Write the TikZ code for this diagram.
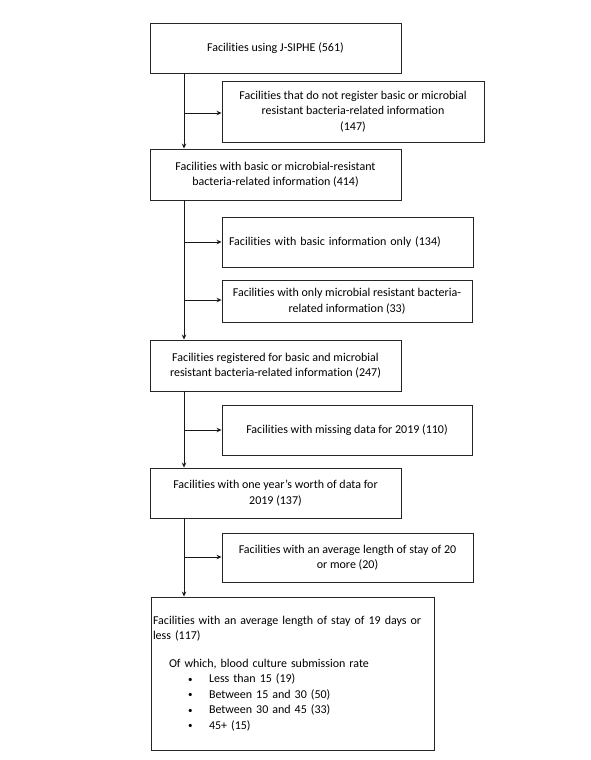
\documentclass[tikz,border=0pt]{standalone}
\usepackage{fontspec}
\setmainfont{Carlito}[Ligatures={NoCommon}]
\usetikzlibrary{arrows.meta}
\newcommand{\smbul}{\makebox[56pt][l]{\hspace*{35pt}\raisebox{0.5pt}{\scalebox{0.75}{\textbullet}}}}
\begin{document}
\begin{tikzpicture}[x=1pt,y=-1pt,
  box/.style={draw=black!85,line width=0.9pt,inner sep=2pt,align=center,
    font=\fontsize{12}{15.5}\selectfont,anchor=center},
  arr/.style={draw=black!90,line width=0.9pt,-{Stealth[length=5pt,width=4.5pt]}}]
\useasboundingbox (0,0) rectangle (590,760);
\node[box,minimum width=251pt,minimum height=50pt] (b1) at (275.5,48) {Facilities using J-SIPHE (561)};
\node[box,minimum width=262pt,minimum height=61pt] (b2) at (353,111.5) {Facilities that do not register basic or microbial\\resistant bacteria-related information\\(147)};
\node[box,minimum width=251pt,minimum height=51pt] (b3) at (275.5,174.5) {Facilities with basic or microbial-resistant\\bacteria-related information (414)};
\node[box,minimum width=251pt,minimum height=50pt,text width=237pt,align=left] (b4) at (347.5,242) {Facilities with basic information only (134)};
\node[box,minimum width=250pt,minimum height=42pt] (b5) at (347,301) {Facilities with only microbial resistant bacteria-\\related information (33)};
\node[box,minimum width=251pt,minimum height=51pt] (b6) at (275.5,365.5) {Facilities registered for basic and microbial\\resistant bacteria-related information (247)};
\node[box,minimum width=250pt,minimum height=50pt] (b7) at (347,430) {Facilities with missing data for 2019 (110)};
\node[box,minimum width=251pt,minimum height=50pt] (b8) at (275.5,493) {Facilities with one year's worth of data for\\2019 (137)};
\node[box,minimum width=251pt,minimum height=49pt] (b9) at (347.5,557.5) {Facilities with an average length of stay of 20\\or more (20)};
\node[box,minimum width=283pt,minimum height=153pt,text width=279pt,align=left] (b10) at (292.5,673.5) {Facilities with an average length of stay of 19 days or\\less (117)\\[12pt]\hspace*{16pt}Of which, blood culture submission rate\\
\smbul Less than 15 (19)\\
\smbul Between 15 and 30 (50)\\
\smbul Between 30 and 45 (33)\\
\smbul 45+ (15)};
\coordinate (m) at (184,0);
\coordinate (j1) at (184,113);
\coordinate (j2) at (184,242);
\coordinate (j3) at (184,300);
\coordinate (j4) at (184,430);
\coordinate (j5) at (184,557);
\draw[arr] (b1.south -| m) -- (b3.north -| m);
\draw[arr] (b3.south -| m) -- (b6.north -| m);
\draw[arr] (b6.south -| m) -- (b8.north -| m);
\draw[arr] (b8.south -| m) -- (b10.north -| m);
\draw[arr] (j1) -- (j1 -| b2.west);
\draw[arr] (j2) -- (j2 -| b4.west);
\draw[arr] (j3) -- (j3 -| b5.west);
\draw[arr] (j4) -- (j4 -| b7.west);
\draw[arr] (j5) -- (j5 -| b9.west);
\end{tikzpicture}
\end{document}
